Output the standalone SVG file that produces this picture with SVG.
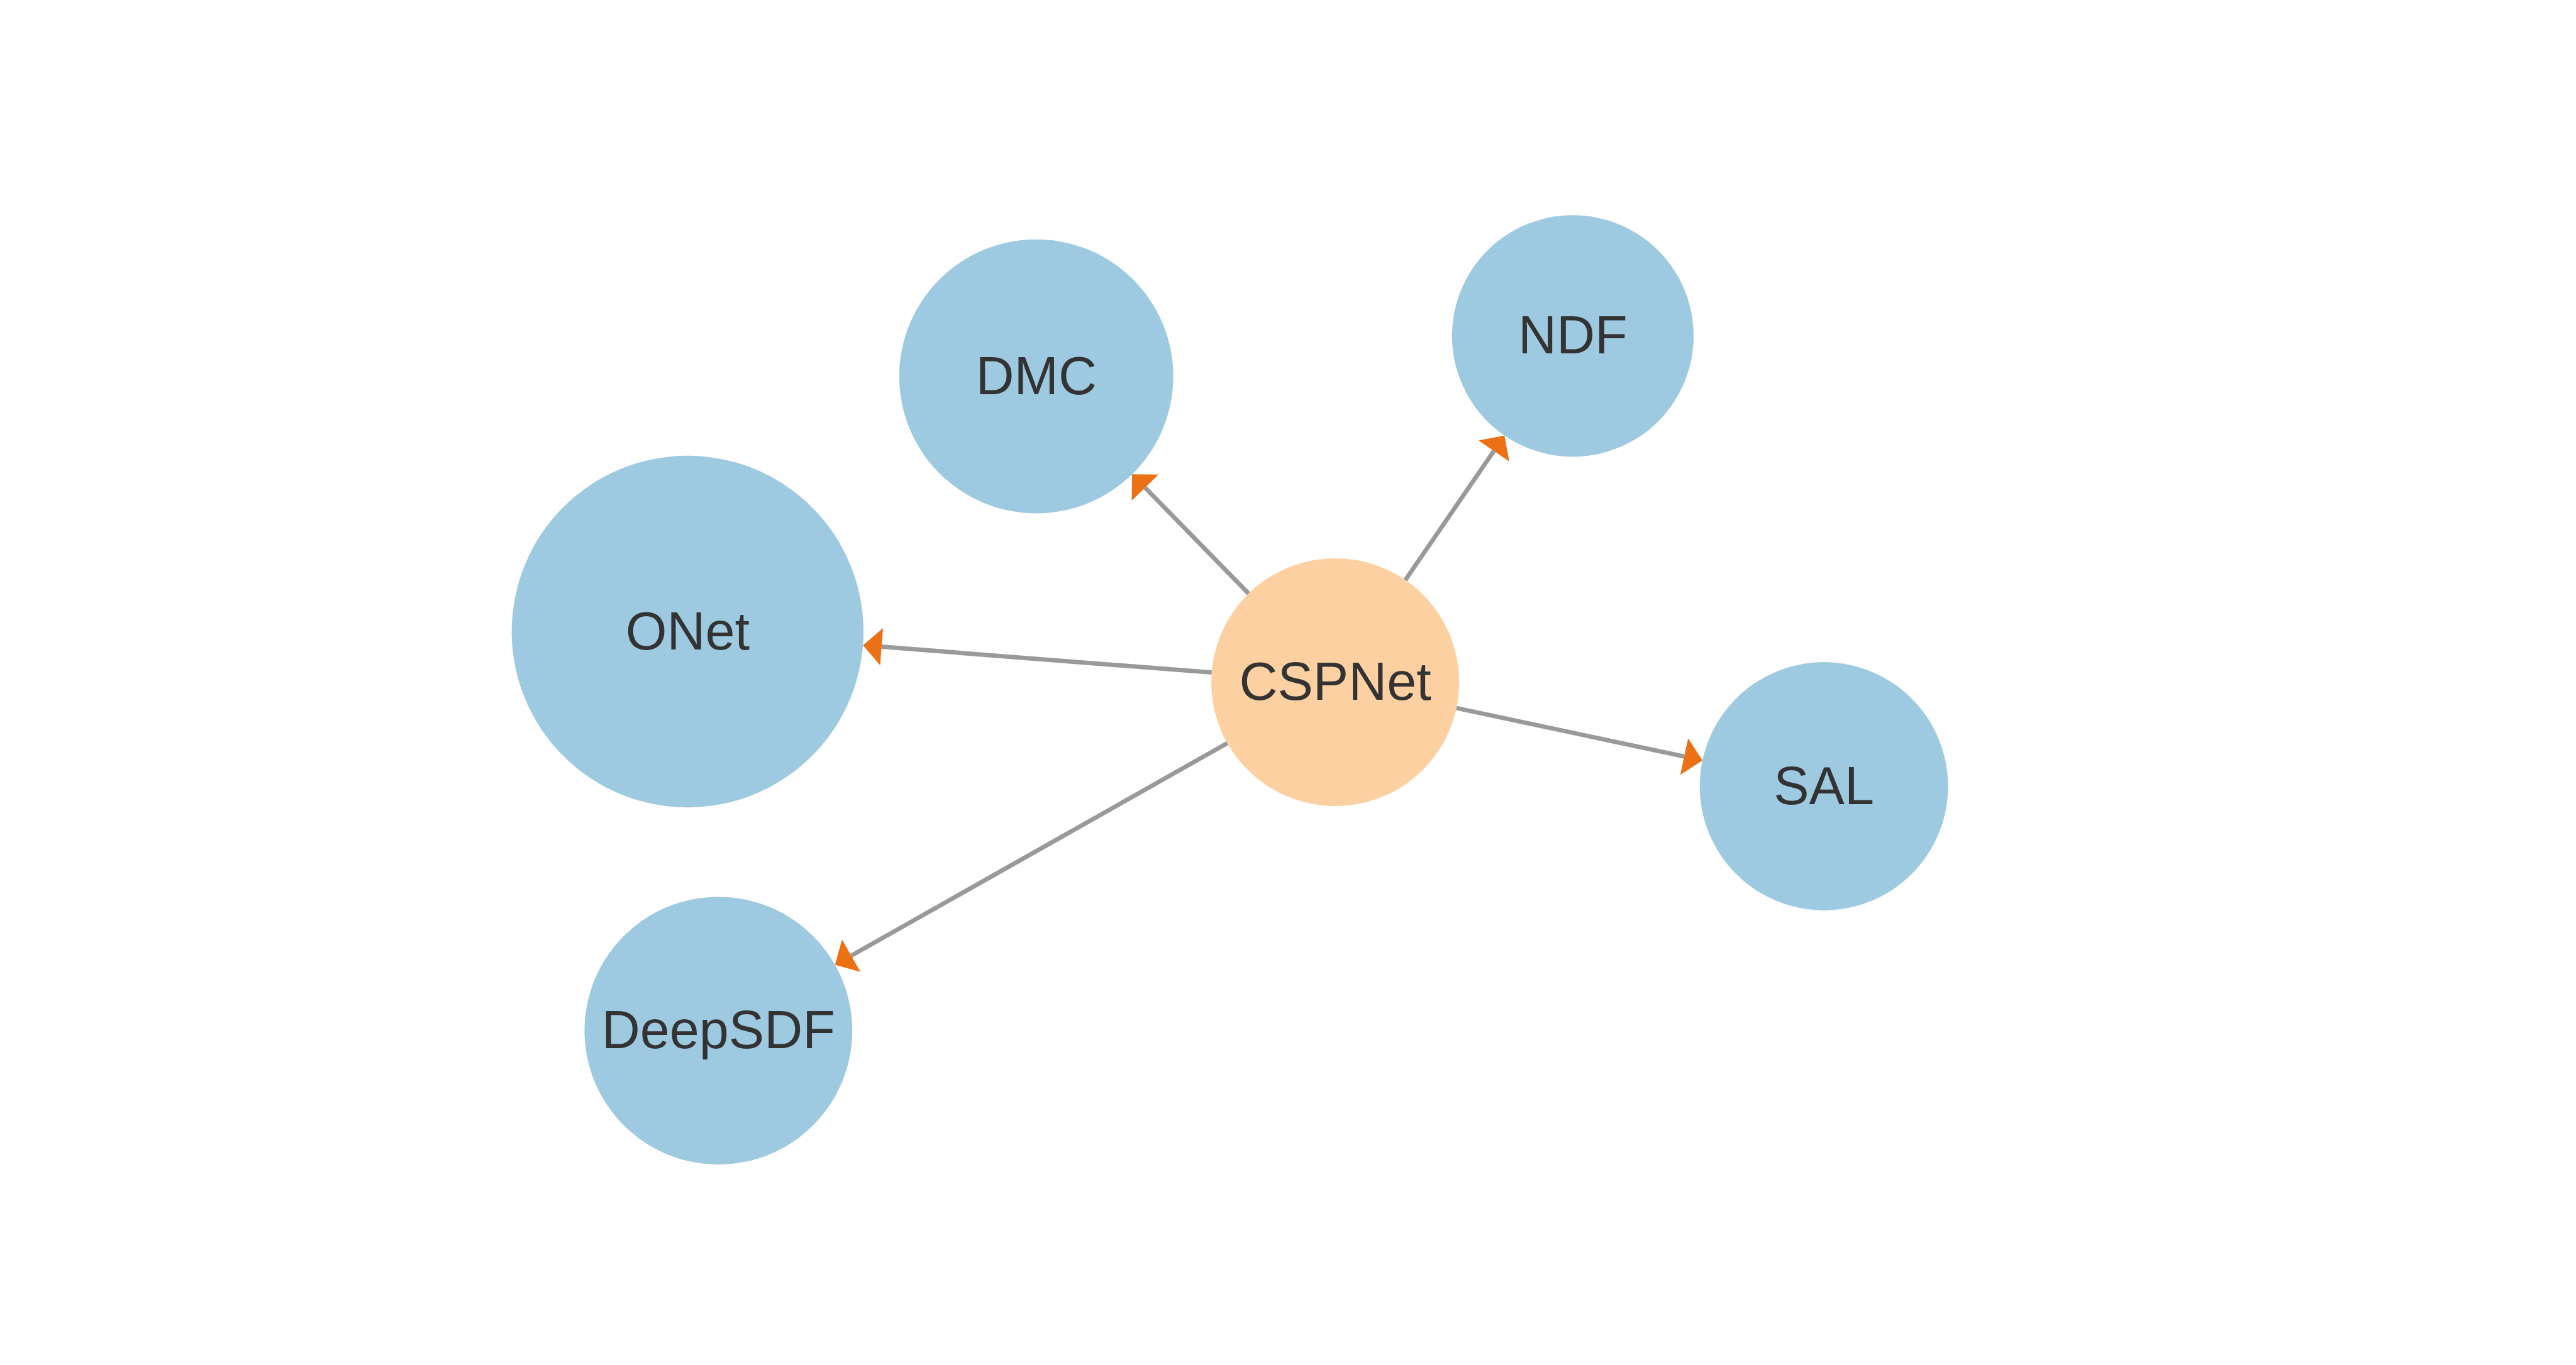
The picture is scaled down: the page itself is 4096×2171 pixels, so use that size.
<svg xmlns="http://www.w3.org/2000/svg" width="4096" height="2171" viewBox="0 0 4096 2171">
  <style>
    .node-a { fill: #9ecae1; }
    .node-c { fill: #fdd0a2; }
    .label { font-family: "Liberation Sans", Arial, sans-serif; font-size: 84.5px; fill: #333333; text-anchor: middle; }
    .edge { stroke: #999999; stroke-width: 7; fill: none; marker-end: url(#arr); }
  </style>
  <defs>
    <marker id="arr" markerUnits="userSpaceOnUse" viewBox="0 -30 30 60" refX="0" refY="0" markerWidth="30" markerHeight="60" orient="auto" overflow="visible">
      <path d="M0,-29.7 L29.7,0 L0,29.7 Z" fill="#ec7014"/>
    </marker>
  </defs>
  <rect width="4096" height="2171" fill="#ffffff"/>
  <g id="nodes">
    <g id="node-cspnet">
      <circle class="node-c" cx="2123.1" cy="1085" r="197.1"/>
      <text class="label" x="2123.1" y="1113">CSPNet</text>
    </g>
    <g id="node-dmc">
      <circle class="node-a" cx="1647.7" cy="598.6" r="217.9"/>
      <text class="label" x="1647.7" y="626.6">DMC</text>
    </g>
    <g id="node-ndf">
      <circle class="node-a" cx="2500.9" cy="534.3" r="192.1"/>
      <text class="label" x="2500.9" y="562.3">NDF</text>
    </g>
    <g id="node-onet">
      <circle class="node-a" cx="1093.3" cy="1004.5" r="279.7"/>
      <text class="label" x="1093.3" y="1032.5">ONet</text>
    </g>
    <g id="node-sal">
      <circle class="node-a" cx="2900.1" cy="1250.5" r="197.4"/>
      <text class="label" x="2900.1" y="1278.5">SAL</text>
    </g>
    <g id="node-deepsdf">
      <circle class="node-a" cx="1142.3" cy="1639.3" r="212.9"/>
      <text class="label" x="1142.3" y="1667.3">DeepSDF</text>
    </g>
  </g>
  <g id="connectors">
    <line class="edge" x1="1985.3" y1="944.0" x2="1820.8" y2="775.6"/>
    <line class="edge" x1="2234.6" y1="922.5" x2="2375.4" y2="717.2"/>
    <line class="edge" x1="1926.6" y1="1069.6" x2="1401.8" y2="1028.6"/>
    <line class="edge" x1="2315.9" y1="1126.1" x2="2678.0" y2="1203.2"/>
    <line class="edge" x1="1951.5" y1="1182.0" x2="1353.5" y2="1520.0"/>
  </g>
</svg>
